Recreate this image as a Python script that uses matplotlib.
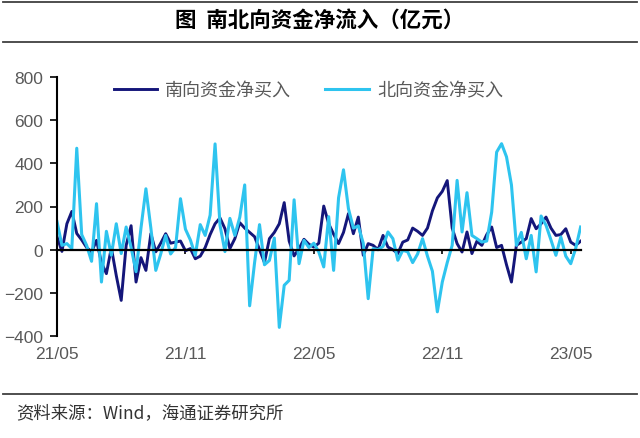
import matplotlib
matplotlib.use('Agg')
import matplotlib.pyplot as plt
from matplotlib.lines import Line2D

plt.rcParams['font.family'] = ['Liberation Sans', 'Noto Sans CJK SC', 'DejaVu Sans']

# weekly net buying, 100 million yuan, 2021/05 - 2023/05
south = [60, -8, 120, 177, 75, 45, 10, -10, 43, -60,
         -111, 9, -120, -235, 20, 111, -150, -37, -96, 74,
         -10, 30, 74, 30, 35, 40, -5, 5, -42, -30,
         10, 70, 120, 147, 97, 5, 51, 125, 100, 80,
         60, 0, -60, 51, 80, 120, 218, 40, -29, 5,
         48, 25, 12, 30, 202, 120, 72, 28, 80, 167,
         74, 151, -26, 28, 20, 0, 66, 12, 0, -18,
         35, 45, 100, 85, 66, 100, 180, 240, 270, 320,
         100, 28, -11, 82, -18, 39, 20, 70, 105, 10,
         20, -70, -150, 20, 35, 51, 144, 97, 120, 151,
         100, 66, 70, 97, 35, 20, 39]
north = [130, 20, 28, 5, 470, 70, 20, -54, 213, -150,
         85, -26, 120, -18, 105, 10, -102, 100, 282, 100,
         -96, -20, 66, -20, 10, 236, 95, 45, -26, 116,
         66, 160, 490, 113, -9, 145, 66, 150, 300, -260,
         -60, 116, -70, -50, 54, -360, -165, -142, 231, -65,
         43, 10, 30, -11, -80, 153, -96, 240, 370, 190,
         100, 110, 30, -227, 5, 0, 15, 82, 51, -49,
         -3, -10, -60, -20, 51, -30, -100, -288, -150, -60,
         20, 321, 82, 264, 66, 51, 35, 40, 174, 452,
         491, 430, 300, 20, 80, -42, 66, -103, 156, 113,
         45, -26, 59, -30, -65, 5, 105]
tick_weeks = [0, 26, 52, 78, 104]
tick_labels = ['21/05', '21/11', '22/05', '22/11', '23/05']

weeks = list(range(len(south)))

fig = plt.figure(figsize=(6.4, 4.39), dpi=100)
ax = fig.add_axes([57 / 640, 1 - 337 / 439, (580.6 - 57) / 640, (337 - 78) / 439])

ax.plot(weeks, south, color='#14167a', lw=2.1, label='南向资金净买入', solid_joinstyle='round')
ax.plot(weeks, north, color='#2ec4ef', lw=2.2, label='北向资金净买入', solid_joinstyle='round')

ax.set_xlim(0, 106)
ax.set_ylim(-400, 800)
ax.set_yticks(range(-400, 801, 200))

ax.spines['top'].set_visible(False)
ax.spines['right'].set_visible(False)
ax.spines['left'].set_linewidth(1.5)
ax.spines['bottom'].set_position(('data', 0))
ax.spines['bottom'].set_linewidth(1.6)
ax.set_xticks(tick_weeks)
ax.tick_params(axis='x', direction='out', length=3, width=1.2, labelbottom=False)
ax.tick_params(axis='y', direction='out', length=5, width=1.2, labelsize=12.5,
               labelcolor='#595959', pad=5)

sec = ax.secondary_xaxis('bottom')
sec.set_xticks(tick_weeks, tick_labels)
sec.spines['bottom'].set_visible(False)
sec.tick_params(length=0, pad=7, labelsize=12.5, labelcolor='#595959')

leg = ax.legend(loc='upper center', bbox_to_anchor=(0.48, 1.045), ncol=2, frameon=False,
                handlelength=2.4, columnspacing=1.9, handletextpad=0.45,
                prop={'family': ['Noto Sans CJK SC', 'DejaVu Sans'], 'size': 13})
for t in leg.get_texts():
    t.set_color('#595959')

fig.text(0.5, 1 - 20 / 439, '图  南北向资金净流入（亿元）', ha='center', va='center',
         fontsize=15.5, fontweight='bold', family=['Noto Sans CJK SC', 'DejaVu Sans'])
fig.text(16 / 640, 1 - 413 / 439, '资料来源：Wind，海通证券研究所', ha='left', va='center',
         fontsize=12.5, color='#333333', family=['Noto Sans CJK SC', 'DejaVu Sans'])

for yy in [3, 43, 395]:
    fig.add_artist(Line2D([3 / 640, 637 / 640], [1 - yy / 439, 1 - yy / 439],
                          color='#404040', lw=1.3))

fig.savefig('out.png', dpi=100)
